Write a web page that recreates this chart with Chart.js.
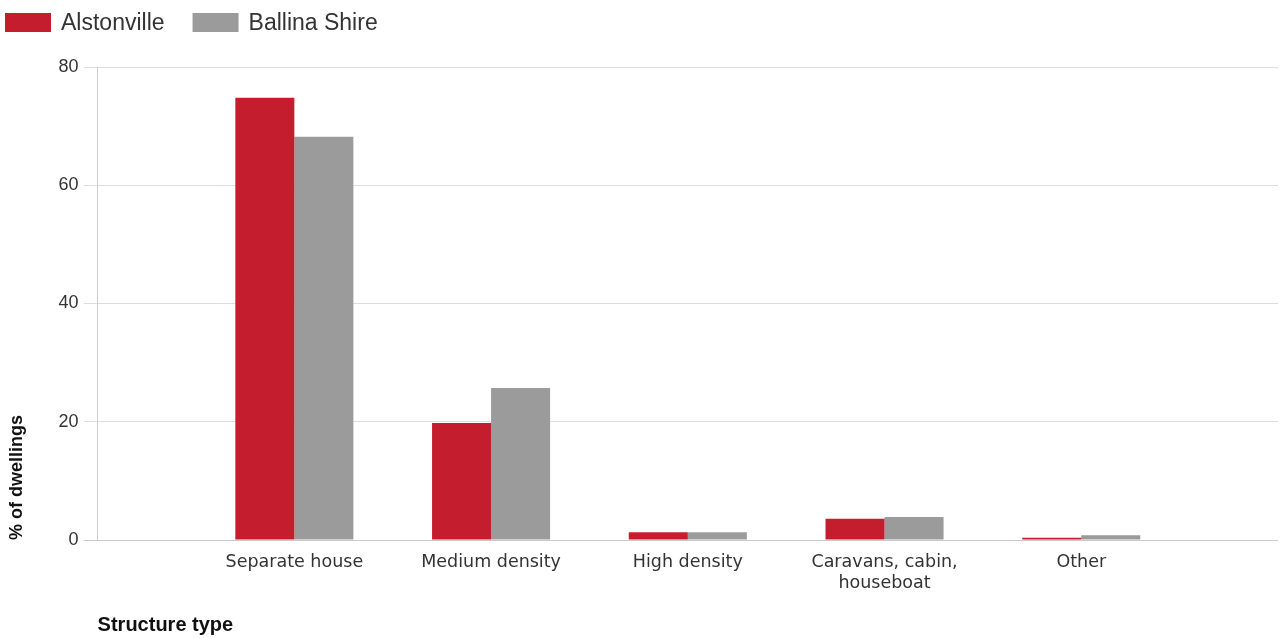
<!DOCTYPE html>
<html>
<head>
<meta charset="utf-8">
<script src="https://cdn.jsdelivr.net/npm/chart.js@4"></script>
<style>
  html, body { margin: 0; padding: 0; background: #fff; }
  #wrap { width: 1280px; height: 639px; position: relative; }
</style>
</head>
<body>
<div id="wrap"><canvas id="myChart"></canvas></div>
<script>
// Chart data
const categories = ['Separate house', 'Medium density', 'High density', ['Caravans, cabin,', 'houseboat'], 'Other'];
const alstonville = [74.8, 19.8, 1.3, 3.6, 0.4];
const ballinaShire = [68.2, 25.7, 1.3, 3.9, 0.8];
const yTicks = [0, 20, 40, 60, 80];

const RED = '#c41e2e';
const GREY = '#9b9b9b';

// empty slot on each side of the categories
function padded(arr) {
    return [null].concat(arr, [null]);
}

// Simple legend drawn at the top left, from the dataset labels and colours
const topLegend = {
    id: 'topLegend',
    afterDraw(chart) {
        let ctx = chart.ctx;
        let x = 5;
        ctx.save();
        ctx.font = '23px "Liberation Sans", Arial, sans-serif';
        ctx.textBaseline = 'middle';
        chart.data.datasets.forEach((ds) => {
            ctx.fillStyle = ds.backgroundColor;
            ctx.fillRect(x, 13, 46, 19);
            x += 46 + 10;
            ctx.fillStyle = '#333';
            ctx.fillText(ds.label, x, 24);
            x += ctx.measureText(ds.label).width + 28;
        });
        ctx.restore();
    }
};

let ctx = document.getElementById('myChart').getContext('2d');
let chart = new Chart(ctx, {
    type: 'bar',
    data: {
        labels: padded(categories).map((c) => c === null ? '' : c),
        datasets: [{
            label: 'Alstonville',
            backgroundColor: RED,
            data: padded(alstonville)
        }, {
            label: 'Ballina Shire',
            backgroundColor: GREY,
            data: padded(ballinaShire)
        }]
    },
    options: {
        responsive: true,
        maintainAspectRatio: false,
        animation: false,
        layout: { padding: { top: 67, right: 0, bottom: 2, left: 0 } },
        datasets: {
            bar: { categoryPercentage: 0.6, barPercentage: 1.0 }
        },
        plugins: {
            legend: { display: false },
            tooltip: { enabled: false }
        },
        scales: {
            x: {
                offset: false,
                grid: {
                    drawOnChartArea: false,
                    tickLength: 10,
                    color: (c) => c.index === 0 ? '#cccccc' : 'rgba(0,0,0,0)'
                },
                border: { display: false },
                ticks: {
                    color: '#333',
                    padding: 2,
                    maxRotation: 0,
                    autoSkip: false,
                    font: { family: '"DejaVu Sans", Verdana, sans-serif', size: 17.5 }
                },
                title: {
                    display: true,
                    text: 'Structure type',
                    align: 'start',
                    color: '#111',
                    padding: { top: 17, bottom: 0 },
                    font: { family: '"Liberation Sans", Arial, sans-serif', size: 20, weight: 'bold' }
                }
            },
            y: {
                min: 0,
                max: 80,
                afterBuildTicks: (axis) => {
                    axis.ticks = yTicks.map((v) => ({ value: v }));
                },
                grid: {
                    tickLength: 14,
                    color: (c) => c.tick && c.tick.value === 0 ? '#cccccc' : '#dddddd'
                },
                border: { color: '#cccccc' },
                ticks: {
                    color: '#333',
                    padding: 5,
                    font: { family: '"Liberation Sans", Arial, sans-serif', size: 18 }
                },
                title: {
                    display: true,
                    text: '% of dwellings',
                    align: 'start',
                    color: '#111',
                    padding: { top: 6, bottom: 26 },
                    font: { family: '"Liberation Sans", Arial, sans-serif', size: 18, weight: 'bold' }
                }
            }
        }
    },
    plugins: [topLegend]
});
</script>
</body>
</html>
